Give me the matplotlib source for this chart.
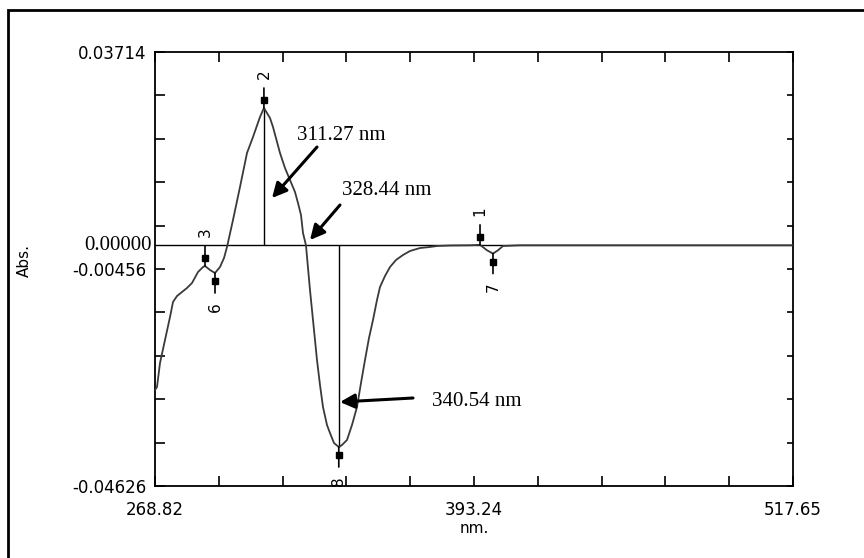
import numpy as np
import matplotlib

matplotlib.use("Agg")
import matplotlib.pyplot as plt
from matplotlib.patches import Rectangle
from matplotlib.transforms import ScaledTranslation, blended_transform_factory


X_MIN, X_MAX = 268.82, 517.65
Y_MIN, Y_MAX = -0.04626, 0.03714
X_TICK_LABELS = ["268.82", "", "", "", "", "393.24", "", "", "", "", "517.65"]
Y_TICK_LABELS = ["-0.04626", "", "", "", "", "-0.00456", "", "", "", "", "0.03714"]

# derivative spectrum
wavelength = [
    268.82, 269.60, 270.77, 272.72, 274.67, 275.84, 277.40, 279.35, 281.30, 283.25,
    285.59, 287.54, 288.32, 290.27, 292.22, 294.17, 295.73, 296.90, 299.24, 301.97,
    304.70, 307.04, 309.77, 311.30, 313.67, 314.84, 317.57, 319.52, 321.47, 323.42,
    324.59, 325.76, 326.54, 327.70, 329.27, 330.44, 332.00, 333.17, 334.34, 335.90,
    337.07, 338.63, 340.50, 341.75, 343.70, 345.65, 347.60, 349.16, 350.72, 352.28,
    353.84, 355.40, 356.57, 358.52, 360.47, 362.81, 365.54, 368.27, 372.17, 376.07,
    378.80, 383.88, 391.68, 395.58, 398.31, 400.64, 402.60, 404.55, 411.18, 517.65,
]
absorbance = [
    -0.02781, -0.02724, -0.02263, -0.01820, -0.01379, -0.01090, -0.00975, -0.00898, -0.00821, -0.00725,
    -0.00514, -0.00418, -0.00398, -0.00475, -0.00533, -0.00418, -0.00245, -0.00033, 0.00486, 0.01120,
    0.01773, 0.02081, 0.02465, 0.02638, 0.02446, 0.02273, 0.01773, 0.01485, 0.01254, 0.01024,
    0.00812, 0.00582, 0.00236, 0.00000, -0.00860, -0.01436, -0.02205, -0.02685, -0.03108, -0.03454,
    -0.03608, -0.03800, -0.03877, -0.03838, -0.03742, -0.03454, -0.03108, -0.02647, -0.02205, -0.01782,
    -0.01436, -0.01052, -0.00802, -0.00591, -0.00418, -0.00283, -0.00187, -0.00110, -0.00053, -0.00033,
    -0.00014, -0.00004, 0.00000, 0.00008, -0.00096, -0.00160, -0.00096, -0.00014, 0.00000, 0.00000,
]

peak_labels = ["3", "6", "2", "8", "1", "7"]
peak_nm = [288.32, 292.22, 311.30, 340.50, 395.58, 400.64]
peak_abs = [-0.00398, -0.00533, 0.02638, -0.03877, 0.00008, -0.00160]
peak_is_max = [True, False, True, False, True, False]

callouts = ["311.27 nm", "328.44 nm", "340.54 nm"]

fig = plt.figure(figsize=(8.64, 5.58), dpi=100)
fig.add_artist(Rectangle((8 / 864, -0.2), 1.2, 1.2 - 10 / 558, transform=fig.transFigure,
                         fill=False, edgecolor="black", linewidth=2))
ax = fig.add_axes([155 / 864, 1 - 486 / 558, 638 / 864, 434 / 558])

ax.plot(wavelength, absorbance, color="#3a3a3a", linewidth=1.3, zorder=3)
ax.axhline(0, color="black", linewidth=1.0, zorder=2)

# drop lines from the main peak and main valley to the baseline
i2 = peak_labels.index("2")
i8 = peak_labels.index("8")
ax.vlines(peak_nm[i2], 0, peak_abs[i2], color="black", linewidth=1.0, zorder=2)
ax.vlines(peak_nm[i8], peak_abs[i8], 0, color="black", linewidth=1.0, zorder=2)

for lab, x, y, is_max in zip(peak_labels, peak_nm, peak_abs, peak_is_max):
    s = 1 if is_max else -1
    ax.annotate("", xy=(x, y), xytext=(0, s * 20), textcoords="offset pixels",
                arrowprops=dict(arrowstyle="-", lw=1.2, color="black", shrinkA=0, shrinkB=0), zorder=4)
    off = ax.transData + ScaledTranslation(0, s * 8 / 100, fig.dpi_scale_trans)
    ax.plot([x], [y], marker="s", markersize=4, color="black", transform=off, zorder=5)
    ax.annotate(lab, xy=(x, y), xytext=(0, s * 34), textcoords="offset pixels", rotation=90,
                ha="center", va="center", fontsize=11, family="DejaVu Sans", zorder=5)

arrow_kw = dict(arrowstyle="-|>", lw=2.2, color="black", mutation_scale=22, shrinkA=0, shrinkB=0)
ax.annotate("", xy=(314.45, 0.00908), xytext=(332.0, 0.01888), arrowprops=arrow_kw)
ax.annotate("", xy=(329.27, 0.00101), xytext=(340.97, 0.00774), arrowprops=arrow_kw)
ax.annotate("", xy=(340.97, -0.03012), xytext=(369.45, -0.02935), arrowprops=arrow_kw)
serif = dict(family="Liberation Serif", fontsize=15, va="center", ha="left")
ax.text(324.2, 0.02100, callouts[0], **serif)
ax.text(341.75, 0.01062, callouts[1], **serif)
ax.text(376.86, -0.02993, callouts[2], **serif)

ax.text(-0.005, 0.0, "0.00000", transform=blended_transform_factory(ax.transAxes, ax.transData),
        family="Liberation Serif", fontsize=15, ha="right", va="center")

ax.set_xlim(X_MIN, X_MAX)
ax.set_ylim(Y_MIN, Y_MAX)
ax.set_xticks(np.linspace(X_MIN, X_MAX, len(X_TICK_LABELS)))
ax.set_xticklabels(X_TICK_LABELS)
ax.set_yticks(np.linspace(Y_MIN, Y_MAX, len(Y_TICK_LABELS)))
ax.set_yticklabels(Y_TICK_LABELS)
ax.tick_params(direction="in", length=7, width=1.2, top=True, right=True, labelsize=12)
ax.tick_params(axis="x", pad=10.5)
ax.tick_params(axis="y", pad=6)
for t in ax.yaxis.get_major_ticks():
    t.tick2line.set_markersize(4)
for sp in ax.spines.values():
    sp.set_linewidth(1.3)

ax.set_xlabel("nm.", fontsize=11, labelpad=2)
ax.set_ylabel("Abs.", fontsize=11, va="center")
ax.yaxis.set_label_coords(-0.205, 0.52)

fig.savefig("out.png", dpi=100)
